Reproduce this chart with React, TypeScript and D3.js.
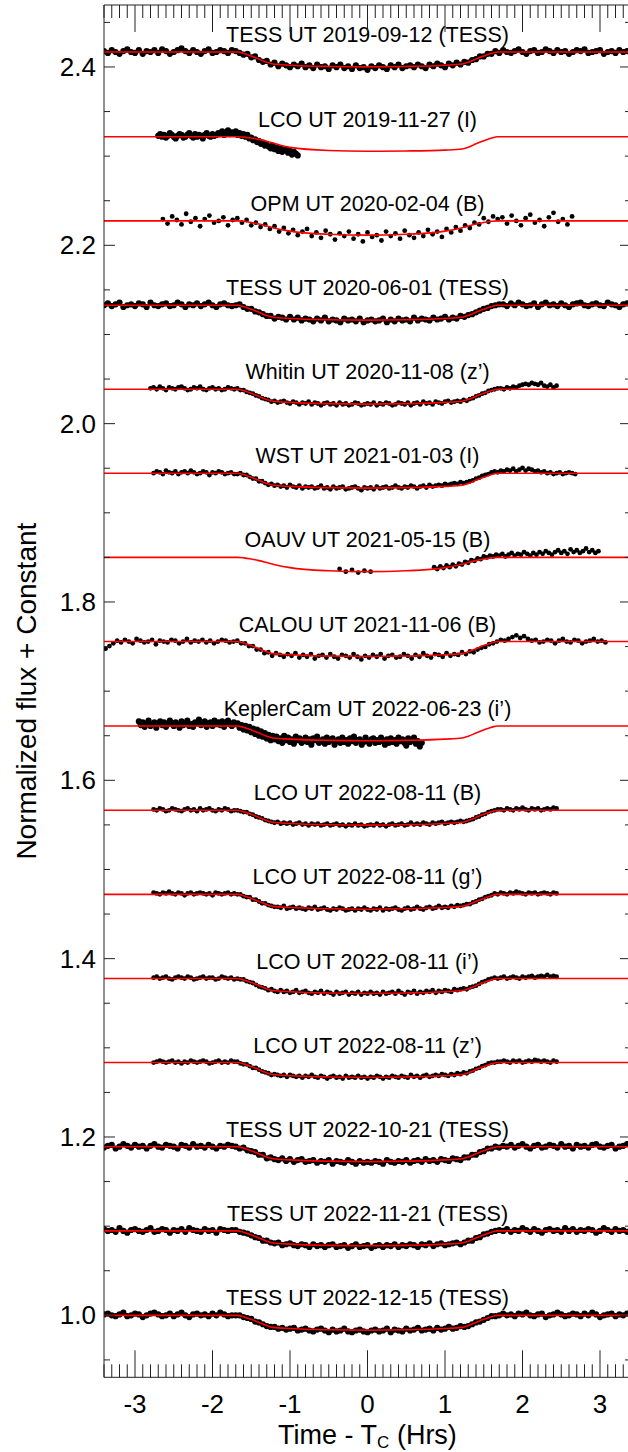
import React from 'react';
import * as d3 from 'd3';

// ---------- axes ----------
const xDomain: [number, number] = [-3.4, 3.4];
const yDomain: [number, number] = [0.9305, 2.4695];
const xMajorTicks = [-3, -2, -1, 0, 1, 2, 3];
const yMajorTicks = [1.0, 1.2, 1.4, 1.6, 1.8, 2.0, 2.2, 2.4];

// ---------- panels ----------
const panelLabels = [
  'TESS UT 2019-09-12 (TESS)',
  'LCO UT 2019-11-27 (I)',
  'OPM UT 2020-02-04 (B)',
  'TESS UT 2020-06-01 (TESS)',
  'Whitin UT 2020-11-08 (z\u2019)',
  'WST UT 2021-01-03 (I)',
  'OAUV UT 2021-05-15 (B)',
  'CALOU UT 2021-11-06 (B)',
  'KeplerCam UT 2022-06-23 (i\u2019)',
  'LCO UT 2022-08-11 (B)',
  'LCO UT 2022-08-11 (g\u2019)',
  'LCO UT 2022-08-11 (i\u2019)',
  'LCO UT 2022-08-11 (z\u2019)',
  'TESS UT 2022-10-21 (TESS)',
  'TESS UT 2022-11-21 (TESS)',
  'TESS UT 2022-12-15 (TESS)',
];
const panelOffsets = [2.4168, 2.3218, 2.2274, 2.1328, 2.0386, 1.9444, 1.85, 1.7556, 1.661, 1.5664, 1.4721, 1.3777, 1.2835, 1.1891, 1.0947, 1.0];

// model knots (hours) and flux deviation (ppt)
const modelT = [-3.4, -1.68, -1.6, -1.5, -1.4, -1.3, -1.22, -1.0, -0.5, 0, 0.5, 1.0, 1.22, 1.3, 1.4, 1.5, 1.6, 1.68, 3.4];
const modelGeneric = [0, 0, -1.5, -4.5, -8, -11.5, -13.5, -14.8, -16.2, -16.7, -16.2, -14.8, -13.5, -11.5, -8, -4.5, -1.5, 0, 0];
const modelLco2019 = [0, 0, -0.5, -1.5, -3, -5, -7, -12, -15.5, -16.3, -16, -15, -13.8, -11.8, -8, -4.5, -1.5, 0, 0];
const modelGradual = [0, 0, -0.5, -1.8, -3.6, -5.8, -7.6, -11.5, -15, -16, -15, -11.5, -7.6, -5.8, -3.6, -1.8, -0.5, 0, 0];

// ---------- data (flux deviation in ppt) ----------
const tess2019 = [1,-1,2,0,-2,1,3,0,-1,2,-2,1,0,2,-1,3,1,-2,0,2,4,1,-1,2,0,-2,1,3,-1,0,2,1,-1,2,
  1,-1,-3,-2,-6,-5,-9,-11,-10,-14,-12,-16,-13,-15,-17,-14,-16,-13,-17,-15,-18,-14,-17,-16,-19,-15,-17,-14,-18,-16,-19,-15,-18,-17,-20,
  -16,-18,-15,-17,-19,-15,-17,-14,-18,-16,-15,-17,-14,-16,-18,-14,-16,-13,-15,-17,-13,-15,-12,-14,-11,-12,-9,-8,-5,-5,-2,-2,1,-1,
  2,0,-1,1,3,0,-2,1,2,-1,0,3,1,-1,2,0,1,-2,0,2,1,3,-1,0,1,2,-2,0,1,-1,2,0,1,-1];
const lco2019 = [1,3,0,2,-1,1,4,2,0,-2,1,3,2,-1,0,2,4,1,-1,3,0,2,1,-2,2,4,1,0,3,1,
  2,4,3,6,2,5,7,3,5,4,6,2,4,1,3,
  0,2,-2,-1,-4,-3,-6,-5,-8,-7,-10,-9,
  -11,-13,-10,-14,-12,-16,-13,-17,-15,-14,-18,-16,-20,-17,-19,-21];
const opm2020 = [2,-3,5,1,-4,8,-1,3,-6,2,6,-2,0,4,-5,1,3,
  -2,1,-5,-2,-7,-4,-9,-6,-12,-8,-14,-10,-16,-12,-9,-17,-13,-19,-11,-15,-21,-14,-17,-12,-20,-15,-23,-13,-18,-16,
  -22,-12,-17,-14,-20,-11,-16,-19,-13,-17,-10,-15,-12,-18,-9,-13,-7,-11,-5,-8,-2,-4,3,-1,5,2,
  4,-3,6,0,-5,3,7,-2,1,-6,4,9,-1,2,-4,5];
const tess2020 = [0,2,-1,1,3,-2,0,1,-1,2,1,-2,3,0,-1,1,2,-1,0,3,1,-2,1,0,2,-1,1,3,0,-2,1,2,0,-1,
  0,1,-2,-4,-4,-7,-8,-10,-12,-12,-15,-13,-14,-16,-13,-16,-14,-17,-15,-16,-18,-15,-17,-14,-18,-16,-17,-19,-15,-17,-16,-18,-15,-19,-17,
  -16,-18,-17,-15,-19,-16,-18,-15,-17,-16,-18,-14,-17,-15,-16,-17,-14,-16,-15,-13,-16,-14,-15,-12,-13,-11,-10,-8,-6,-4,-3,-1,0,1,
  1,-1,2,0,3,1,-1,0,2,-2,1,3,0,1,-1,2,0,-2,1,2,3,0,-1,1,2,0,-1,3,1,0,-2,1,2,0];
const whitin2020 = [1,2,0,3,1,-1,2,1,0,2,3,1,-1,0,2,1,3,0,-1,1,2,0,1,-1,0,2,1,0,
  1,-1,-1,-3,-4,-5,-7,-8,-10,-11,-12,-14,-13,-15,-14,-13,-15,-16,-14,-15,-17,-15,-16,-14,-17,-15,-16,-18,-16,-15,-17,-16,-18,-15,-17,-16,-18,-17,-15,-16,-18,-17,-16,
  -17,-15,-18,-16,-17,-15,-16,-18,-17,-15,-16,-17,-15,-18,-16,-15,-17,-14,-16,-15,-17,-14,-15,-16,-14,-13,-15,-14,-13,-14,-12,-13,-11,-10,-8,-7,-5,-4,-2,-1,0,1,
  1,0,2,1,3,2,4,5,6,5,7,6,5,7,4,3,5,2,4];
const wst2021 = [0,2,1,-1,3,1,0,2,-1,1,2,0,3,1,-1,0,2,1,-2,1,0,2,1,-1,0,1,-1,
  -1,0,-2,-2,-4,-6,-6,-9,-9,-11,-13,-12,-14,-13,-15,-14,-16,-13,-15,-16,-14,-17,-15,-16,-15,-17,-16,-14,-17,-16,-18,-15,-17,-16,-15,-18,-17,-16,-15,-17,-19,-16,-17,
  -16,-18,-15,-17,-16,-15,-17,-16,-14,-16,-17,-15,-16,-14,-15,-17,-15,-14,-16,-13,-15,-14,-13,-14,-12,-13,-12,-11,-12,-10,-11,-10,-9,-8,-6,-5,-3,-2,-1,1,2,1,
  3,2,4,3,5,2,4,6,3,5,4,2,3,1,2,0,1,-1,0,1,-1,0,1,0,-1];
const oauvA = [-13,-16,-14,-17,-15,-16];
const oauvB = [-11,-13,-10,-12,-9,-11,-8,-10,-7,
  -8,-5,-6,-3,-4,-1,-2,1,0,2,1,3,
  2,4,1,3,5,2,4,3,6,4,2,5,3,6,4,7,5,3,6,8,5,7,4,9,6,8,5,7,10,6,8,5,7];
const calou2021 = [-8,-5,-2,1,-1,2,0,-2,3,1,-1,0,2,-3,1,0,-1,2,1,-2,0,3,-1,1,0,2,-1,1,-2,0,2,1,-1,0,
  1,-2,-2,-5,-5,-9,-9,-13,-12,-16,-13,-15,-17,-14,-16,-13,-18,-15,-17,-14,-19,-16,-15,-18,-14,-17,-19,-15,-16,-18,-14,-17,-20,-16,
  -18,-15,-17,-14,-19,-16,-15,-18,-17,-14,-16,-19,-15,-17,-13,-16,-18,-14,-15,-17,-13,-16,-14,-15,-12,-14,-11,-12,-9,-7,-6,-3,-2,0,
  2,1,3,5,7,4,6,3,1,2,-1,0,2,1,-2,1,3,0,-1,2,1,-2,0,1,3,0,1,-1];
const kepler2022 = [5,1,4,-1,3,6,0,2,4,-2,3,5,1,4,-1,2,6,3,0,4,2,-2,5,1,3,6,0,2,-1,4,3,7,1,2,5,-1,3,4,0,6,2,4,1,5,-1,3,6,2,0,4,2,
  3,-2,1,-4,0,-5,-1,-7,-3,-9,-4,-11,-6,-12,-8,-14,-10,-16,-11,-15,
  -12,-17,-14,-19,-11,-16,-13,-18,-15,-20,-12,-16,-14,-19,-17,-13,-18,-15,-21,-14,-16,-12,-19,-17,-15,-20,-13,-18,-16,-14,-21,-17,-15,-19,-13,-18,-16,-20,-14,-17,-12,-19,-16,-15,-21,-18,-13,-17,-20,-15,-14,-19,-16,-18,-13,-17,-21,-15,-19,-14,-18,-16,-20,-13,-17,-15,-19,-22,-14,-18,-16,-13,-20,-17,-23,-19];
const lcoB2022 = [1,0,2,1,-1,0,2,1,0,-1,1,2,0,1,-1,2,0,1,2,0,-1,1,0,2,1,-1,0,
  0,-1,-2,-2,-4,-5,-7,-8,-9,-11,-12,-13,-14,-13,-15,-14,-15,-14,-16,-15,-14,-16,-15,-17,-15,-16,-15,-17,-16,-15,-17,-16,-15,-17,-16,-18,-16,-17,-15,-17,-16,-18,-17,
  -16,-17,-15,-17,-16,-18,-16,-15,-17,-16,-15,-17,-16,-14,-16,-15,-16,-14,-15,-16,-14,-15,-14,-13,-15,-14,-13,-14,-13,-12,-13,-12,-11,-10,-8,-7,-5,-4,-2,-1,0,1,
  1,0,2,1,0,2,1,3,1,0,2,1,2,0,1,2,1,3,2];
const lcoG2022 = [2,1,0,2,1,3,1,0,2,1,-1,1,2,0,1,2,1,0,1,-1,2,1,0,1,2,0,1,
  0,0,-2,-3,-3,-6,-6,-8,-10,-10,-12,-13,-14,-14,-15,-13,-16,-15,-14,-16,-15,-16,-17,-15,-16,-14,-17,-16,-15,-17,-18,-16,-17,-15,-16,-18,-17,-16,-18,-16,-17,-15,-17,
  -18,-16,-17,-15,-18,-16,-17,-16,-15,-17,-18,-16,-15,-17,-16,-14,-16,-17,-15,-14,-16,-15,-13,-15,-14,-15,-13,-14,-12,-13,-12,-11,-11,-9,-8,-6,-5,-3,-2,-1,1,0,
  2,1,0,2,1,3,2,1,0,2,1,2,0,1,2,1,0,2,1];
const lcoI2022 = [1,2,0,1,2,0,-1,1,2,1,0,2,1,-1,0,1,2,0,1,1,-1,0,2,1,0,1,-1,
  0,-1,-1,-3,-4,-5,-7,-9,-10,-11,-13,-12,-14,-15,-13,-15,-14,-16,-15,-13,-16,-15,-14,-16,-17,-15,-16,-14,-17,-15,-16,-18,-15,-17,-16,-15,-18,-16,-17,-15,-18,-16,-17,
  -15,-17,-16,-18,-15,-17,-16,-15,-17,-14,-16,-18,-15,-16,-14,-17,-15,-16,-14,-15,-13,-16,-14,-15,-13,-14,-15,-12,-13,-12,-11,-12,-10,-9,-8,-6,-4,-3,-1,0,1,0,
  1,2,0,1,2,1,0,2,1,2,3,1,2,3,2,4,2,3,2];
const lcoZ2022 = [0,1,2,1,0,1,2,0,1,-1,1,0,2,1,0,1,2,1,-1,0,1,2,0,1,0,2,1,
  1,-1,-2,-2,-4,-6,-6,-8,-10,-11,-12,-14,-13,-14,-15,-14,-16,-14,-15,-16,-15,-17,-15,-16,-14,-16,-17,-15,-16,-18,-16,-15,-17,-16,-18,-15,-17,-16,-17,-15,-17,-16,-18,
  -16,-17,-15,-16,-18,-16,-17,-15,-16,-17,-15,-16,-17,-14,-16,-15,-17,-15,-14,-16,-15,-14,-15,-13,-14,-15,-13,-14,-12,-13,-11,-12,-10,-9,-7,-6,-4,-3,-1,0,0,1,
  1,2,1,0,2,1,2,0,1,2,1,3,2,1,2,1,0,2,1];
const tess2022a = [-1,1,2,-2,0,3,1,-1,2,0,1,-2,1,3,0,-1,2,1,0,-2,2,1,-1,3,0,1,-1,2,0,-2,1,0,2,1,
  0,-2,-1,-4,-5,-6,-9,-9,-13,-12,-14,-15,-13,-16,-14,-17,-15,-14,-17,-16,-15,-18,-16,-17,-15,-19,-16,-17,-18,-15,-17,-19,-16,-18,-17,
  -18,-16,-17,-19,-15,-17,-18,-16,-17,-15,-18,-16,-15,-17,-14,-16,-15,-17,-14,-15,-16,-13,-14,-15,-12,-12,-9,-9,-6,-5,-2,-2,0,-1,
  1,0,2,-1,1,3,0,-2,1,2,-1,0,2,1,-1,3,0,1,-2,2,0,1,-1,2,3,0,-1,1,2,-2,0,1,3,0];
const tess2022b = [2,0,1,-1,3,0,-2,1,2,0,-1,1,3,-1,0,2,1,-2,1,0,2,-1,3,1,0,-1,2,0,1,-2,2,1,0,1,
  1,-1,-2,-3,-5,-7,-8,-11,-11,-13,-14,-13,-16,-15,-14,-16,-17,-15,-16,-18,-15,-17,-16,-18,-16,-15,-18,-17,-16,-19,-17,-15,-18,-17,-16,
  -19,-17,-16,-18,-16,-17,-15,-18,-16,-17,-15,-16,-18,-15,-16,-14,-17,-15,-14,-16,-15,-14,-13,-15,-13,-11,-11,-8,-7,-4,-3,-1,0,1,
  0,2,-1,1,0,3,1,-1,2,0,-2,1,2,0,1,-1,3,0,2,-1,1,0,2,1,-2,0,3,1,-1,2,0,1,-1,2];
const tess2022c = [1,2,0,-1,1,3,-1,0,2,1,-2,0,2,3,1,-1,0,2,-1,1,3,0,-2,1,2,0,1,-1,2,0,3,1,-1,0,
  0,0,-2,-3,-4,-7,-8,-10,-12,-13,-13,-15,-14,-16,-15,-14,-17,-16,-15,-17,-18,-16,-15,-17,-19,-16,-18,-17,-15,-18,-19,-17,-16,-18,-19,
  -17,-16,-18,-17,-15,-19,-16,-17,-18,-15,-17,-16,-14,-17,-16,-15,-17,-14,-16,-15,-13,-15,-14,-12,-13,-12,-10,-8,-7,-5,-3,-1,-1,0,
  2,0,1,-1,2,1,3,0,-1,1,2,-2,0,1,3,1,-1,0,2,1,-1,2,0,3,1,-2,0,1,2,-1,1,0,2,1];

// segment table: [start time (h), cadence (h), values]
type Seg = { t0: number; dt: number; v: number[] };
type Panel = { label: string; offset: number; model: number[]; segs: Seg[]; dense?: boolean };

const panels: Panel[] = [
  { model: modelGeneric, segs: [{ t0: -3.4, dt: 0.05, v: tess2019 }], dense: true },
  { model: modelLco2019, segs: [{ t0: -2.7, dt: 0.025, v: lco2019 }], dense: true },
  { model: modelGradual, segs: [{ t0: -2.64, dt: 0.06, v: opm2020 }] },
  { model: modelGeneric, segs: [{ t0: -3.4, dt: 0.05, v: tess2020 }], dense: true },
  { model: modelGeneric, segs: [{ t0: -2.8, dt: 0.04, v: whitin2020 }] },
  { model: modelGeneric, segs: [{ t0: -2.76, dt: 0.04, v: wst2021 }] },
  { model: modelGradual, segs: [{ t0: -0.36, dt: 0.08, v: oauvA }, { t0: 0.86, dt: 0.04, v: oauvB }] },
  { model: modelGeneric, segs: [{ t0: -3.38, dt: 0.05, v: calou2021 }] },
  { model: modelGeneric, segs: [{ t0: -2.95, dt: 0.025, v: kepler2022 }], dense: true },
  { model: modelGeneric, segs: [{ t0: -2.76, dt: 0.04, v: lcoB2022 }] },
  { model: modelGeneric, segs: [{ t0: -2.76, dt: 0.04, v: lcoG2022 }] },
  { model: modelGeneric, segs: [{ t0: -2.76, dt: 0.04, v: lcoI2022 }] },
  { model: modelGeneric, segs: [{ t0: -2.76, dt: 0.04, v: lcoZ2022 }] },
  { model: modelGeneric, segs: [{ t0: -3.4, dt: 0.05, v: tess2022a }], dense: true },
  { model: modelGeneric, segs: [{ t0: -3.4, dt: 0.05, v: tess2022b }], dense: true },
  { model: modelGeneric, segs: [{ t0: -3.4, dt: 0.05, v: tess2022c }], dense: true },
].map((p, i) => ({ ...p, label: panelLabels[i], offset: panelOffsets[i] }));

const FONT = "'Liberation Sans', Arial, Helvetica, sans-serif";

export default function App() {
  const W = 628, H = 1452;
  const L = 104, R = 631, T = 5, B = 1377.3;
  const x = d3.scaleLinear().domain(xDomain).range([L, R]);
  const y = d3.scaleLinear().domain(yDomain).range([B, T]);

  const line = d3.line<[number, number]>()
    .x(d => x(d[0]))
    .y(d => y(d[1]))
    .curve(d3.curveMonotoneX);

  const xMinor = d3.range(-34, 35).map(i => i / 10);
  const yMinor = d3.range(19, 50).map(i => i * 0.05);
  const isMajorY = (v: number) => yMajorTicks.some(m => Math.abs(m - v) < 1e-6);
  const isMajorX = (v: number) => Math.abs(v - Math.round(v)) < 1e-6;

  const axisColor = '#222';

  return (
    <svg width={W} height={H} style={{ position: 'absolute', left: 0, top: 0, background: '#fff' }} fontFamily={FONT}>
      <defs>
        <clipPath id="plotClip">
          <rect x={L} y={T} width={R - L} height={B - T} />
        </clipPath>
      </defs>
      <rect x={0} y={0} width={W} height={H} fill="#fff" />

      <g clipPath="url(#plotClip)">
        {panels.map((p, pi) => (
          <g key={pi}>
            {p.segs.map((s, si) =>
              s.v.map((val, k) => (
                <circle key={`${si}-${k}`} cx={x(s.t0 + k * s.dt)} cy={y(p.offset + val / 1000)}
                  r={p.dense ? 3.1 : 2.4} fill="#000" />
              ))
            )}
          </g>
        ))}
        {panels.map((p, pi) => (
          <path key={`m${pi}`}
            d={line(modelT.map((t, k) => [t, p.offset + p.model[k] / 1000]) as [number, number][]) || ''}
            fill="none" stroke="#ff0000" strokeWidth={1.6} />
        ))}
      </g>

      {/* panel labels */}
      {panels.map((p, pi) => (
        <text key={`l${pi}`} x={x(0)} y={y(p.offset) - 10} textAnchor="middle" fontSize={21.5} fill="#000">
          {p.label}
        </text>
      ))}

      {/* frame */}
      <g stroke={axisColor} strokeWidth={1} fill="none">
        <line x1={L} y1={T} x2={L} y2={B} />
        <line x1={R} y1={T} x2={R} y2={B} />
        <line x1={L} y1={T} x2={R} y2={T} />
        <line x1={L} y1={B} x2={R} y2={B} />
        {xMinor.map((v, i) => {
          const len = isMajorX(v) ? 27 : 13;
          return (
            <g key={`xt${i}`}>
              <line x1={x(v)} y1={B} x2={x(v)} y2={B - len} />
              <line x1={x(v)} y1={T} x2={x(v)} y2={T + len} />
            </g>
          );
        })}
        {yMinor.map((v, i) => {
          const len = isMajorY(v) ? 11 : 6;
          return (
            <g key={`yt${i}`}>
              <line x1={L} y1={y(v)} x2={L + len} y2={y(v)} />
              <line x1={R} y1={y(v)} x2={R - len} y2={y(v)} />
            </g>
          );
        })}
      </g>

      {/* tick labels */}
      {xMajorTicks.map(v => (
        <text key={`xl${v}`} x={x(v)} y={1412.5} textAnchor="middle" fontSize={26} fill="#000">{String(v)}</text>
      ))}
      {yMajorTicks.map(v => (
        <text key={`yl${v}`} x={96} y={y(v)} dy="0.35em" textAnchor="end" fontSize={26} fill="#000">{d3.format('.1f')(v)}</text>
      ))}

      {/* axis titles */}
      <text x={(L + R) / 2} y={1444} textAnchor="middle" fontSize={27} fill="#000">
        Time - T<tspan fontSize={17} dy={3.5}>C</tspan><tspan dy={-3.5}> (Hrs)</tspan>
      </text>
      <text transform={`translate(36,${(T + B) / 2}) rotate(-90)`} textAnchor="middle" fontSize={28} fill="#000">
        Normalized flux + Constant
      </text>
    </svg>
  );
}
